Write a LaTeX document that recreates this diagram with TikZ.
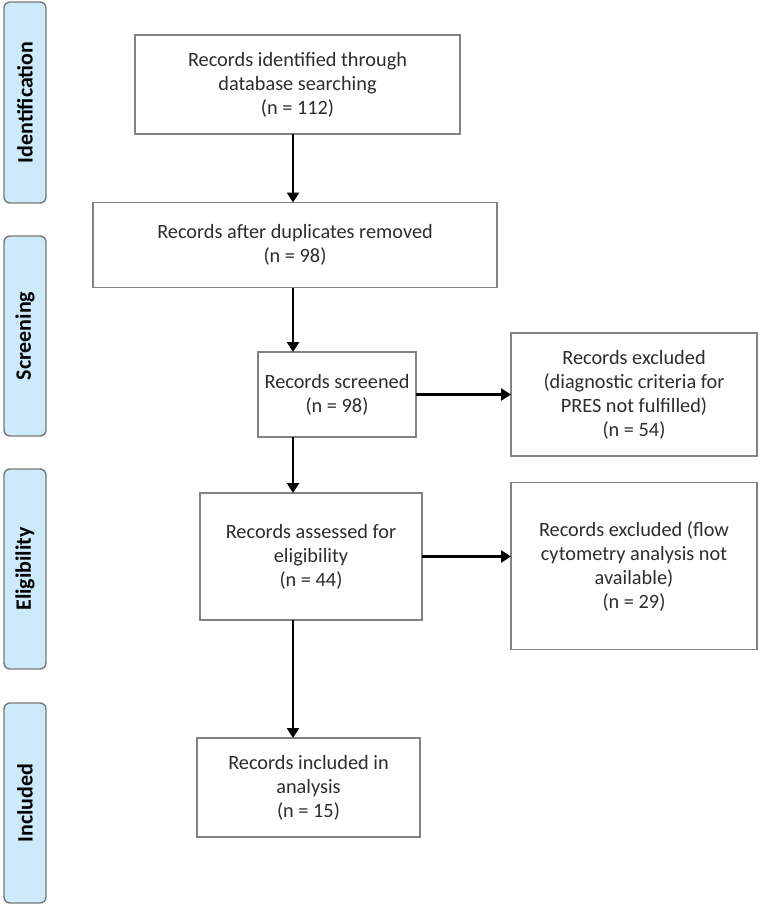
\documentclass[tikz,border=0pt]{standalone}
\usepackage{fontspec}
\setmainfont{Carlito}
\usetikzlibrary{arrows.meta}
\definecolor{bandfill}{RGB}{204,234,250}
\definecolor{bandline}{RGB}{120,120,120}
\definecolor{boxline}{RGB}{130,130,130}
\definecolor{txt}{RGB}{45,45,45}
\tikzset{
  flowbox/.style={draw=boxline, line width=1.4pt, fill=white, align=center,
    inner sep=0pt, outer sep=0pt, text=txt, font=\fontsize{20.3}{24}\selectfont},
  band/.style={draw=bandline, line width=1.4pt, fill=bandfill, rounded corners=6pt,
    inner sep=0pt, outer sep=0pt, minimum width=42pt,
    font=\fontsize{22}{26}\selectfont\bfseries, text=black},
  flowarrow/.style={line width=2.8pt, black, -{Triangle[width=12pt,length=10pt]}}
}
\begin{document}
\begin{tikzpicture}[x=1pt,y=-1pt]
\useasboundingbox (0,0) rectangle (762,905);
% side bands
\node[band, minimum height=201pt] (bid) at (25,102.5) {\rotatebox{90}{Identification}};
\node[band, minimum height=200pt] (bsc) at (25,336) {\rotatebox{90}{Screening}};
\node[band, minimum height=200pt] (bel) at (25,569) {\rotatebox{90}{Eligibility}};
\node[band, minimum height=200pt] (bin) at (25,803) {\rotatebox{90}{Included}};
% boxes
\node[flowbox, minimum width=325pt, minimum height=99pt] (b1) at (297.5,84.5)
  {Records identified through\\database searching\\(n = 112)};
\node[flowbox, minimum width=404pt, minimum height=85pt] (b2) at (295,245)
  {Records after duplicates removed\\(n = 98)};
\node[flowbox, minimum width=158pt, minimum height=85pt] (b3) at (337,394.5)
  {Records screened\\(n = 98)};
\node[flowbox, minimum width=246pt, minimum height=123pt] (e1) at (634,394.5)
  {Records excluded\\(diagnostic criteria for\\PRES not fulfilled)\\(n = 54)};
\node[flowbox, minimum width=222pt, minimum height=127pt] (b4) at (311,556.5)
  {Records assessed for\\eligibility\\(n = 44)};
\node[flowbox, minimum width=246pt, minimum height=167pt] (e2) at (634,566)
  {Records excluded (flow\\cytometry analysis not\\available)\\(n = 29)};
\node[flowbox, minimum width=223pt, minimum height=99pt] (b5) at (308.5,787.5)
  {Records included in\\analysis\\(n = 15)};
% arrow axis
\coordinate (ax) at (293,0);
\draw[flowarrow] (b1.south -| ax) -- (b2.north -| ax);
\draw[flowarrow] (b2.south -| ax) -- (b3.north -| ax);
\draw[flowarrow] (b3.south -| ax) -- (b4.north -| ax);
\draw[flowarrow] (b4.south -| ax) -- (b5.north -| ax);
\draw[flowarrow] (b3.east) -- (b3.east -| e1.west);
\draw[flowarrow] (b4.east) -- (b4.east -| e2.west);
\end{tikzpicture}
\end{document}
